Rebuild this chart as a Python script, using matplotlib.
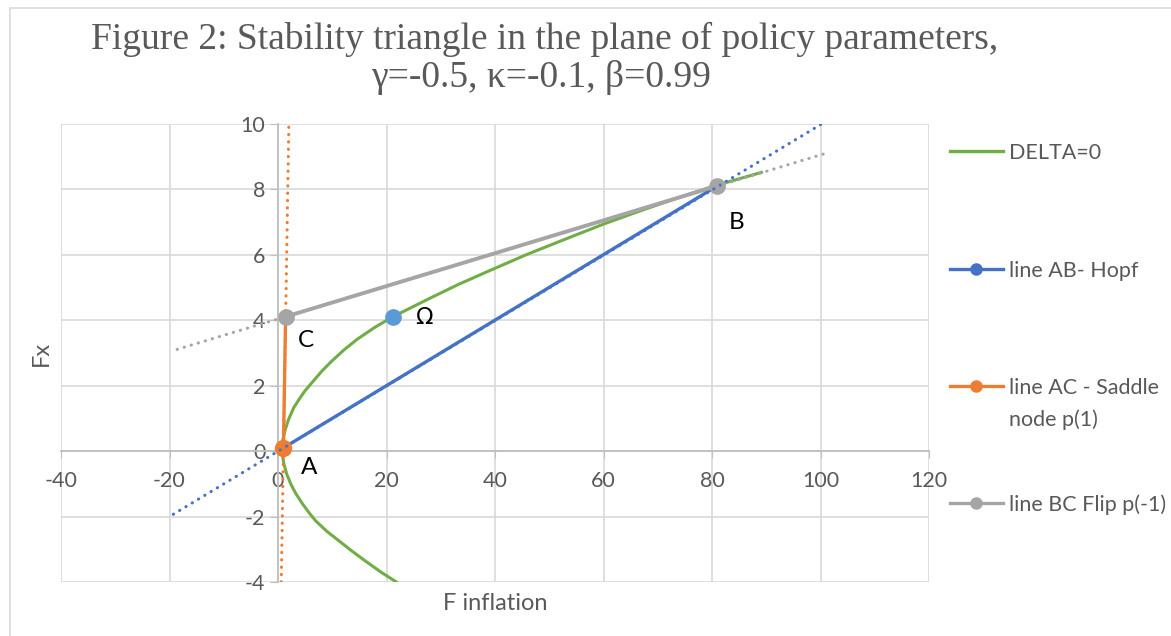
import matplotlib
matplotlib.use('Agg')
import matplotlib.pyplot as plt
from matplotlib.lines import Line2D
from matplotlib.patches import Rectangle

plt.rcParams['font.family'] = ['Lato', 'DejaVu Sans']
plt.rcParams['axes.unicode_minus'] = False

# DELTA=0 curve, points (F inflation, Fx)
delta_x = [22.1, 19.0, 16.2, 13.6, 11.3, 9.0, 7.0, 5.8, 4.6, 3.3, 2.4, 1.6,
           1.1, 0.85, 0.78, 0.9, 1.25, 1.9, 2.9, 3.95, 4.95, 6.5, 8.1, 9.9,
           12.2, 14.6, 17.8, 21.2, 24.7, 28.2, 33.3, 38.9, 45.7, 52.5, 60.0,
           66.0, 73.3, 80.5, 89.1]
delta_y = [-4.03, -3.7, -3.37, -3.05, -2.75, -2.45, -2.14, -1.9, -1.63, -1.3,
           -1.02, -0.7, -0.4, -0.15, 0.1, 0.35, 0.61, 0.95, 1.33, 1.6, 1.84,
           2.14, 2.45, 2.75, 3.1, 3.42, 3.78, 4.11, 4.4, 4.69, 5.1, 5.51, 6.0,
           6.45, 6.94, 7.3, 7.72, 8.11, 8.52]

# corner points of the triangle and the point omega
pt_names = ['A', 'B', 'C']
pt_x = [1.0, 81.0, 1.4]
pt_y = [0.1, 8.11, 4.11]
omega_x = [21.2]
omega_y = [4.11]

# sides of the triangle
ab_x, ab_y = [pt_x[0], pt_x[1]], [pt_y[0], pt_y[1]]
ac_x, ac_y = [pt_x[0], pt_x[2]], [pt_y[0], pt_y[2]]
bc_x, bc_y = [pt_x[1], pt_x[2]], [pt_y[1], pt_y[2]]

# dotted extensions of the sides (end points)
ab_ext_x, ab_ext_y = [-19.3, 100.0], [-1.93, 9.98]
ac_ext_x, ac_ext_y = [0.6, 2.0], [-4.0, 10.0]
bc_ext_x, bc_ext_y = [-18.6, 100.5], [3.11, 9.08]

# where the point names sit
lab_x = [5.7, 84.5, 5.2]
lab_y = [-0.49, 6.98, 3.37]

xticks = [-40, -20, 0, 20, 40, 60, 80, 100, 120]
yticks = [-4, -2, 0, 2, 4, 6, 8, 10]

green = '#70ad47'
blue = '#4472c4'
orange = '#ed7d31'
grey = '#a5a5a5'
light_blue = '#5b9bd5'
txt = '#595959'

W, H = 1171, 636
fig = plt.figure(figsize=(W / 100, H / 100), dpi=100)
ax = fig.add_axes([61 / W, 1 - 582 / H, 868 / W, 458 / H])

# outer chart border
fig.add_artist(Rectangle((10 / W, -0.1), 1.2, 1.1 - 8 / H, transform=fig.transFigure,
                         fill=False, edgecolor='#d9d9d9', lw=1.2))

dot = (0, (0.1, 2.3))
ax.plot(delta_x, delta_y, color=green, lw=2.2, zorder=3)
ax.plot(ab_x, ab_y, color=blue, lw=2.4, marker='o', ms=9, zorder=4)
ax.plot(ac_x, ac_y, color=orange, lw=2.4, zorder=5)
ax.plot(ac_x[:1], ac_y[:1], color=orange, marker='o', ms=11.5, ls='none', zorder=5)
ax.plot(bc_x, bc_y, color=grey, lw=2.8, zorder=6)
ax.plot(bc_x, bc_y, color=grey, marker='o', ms=11, ls='none', zorder=6)
ax.plot(omega_x, omega_y, color=light_blue, marker='o', ms=11, ls='none', zorder=6)

ax.plot(ab_ext_x, ab_ext_y, color=blue, lw=2.2, ls=dot, dash_capstyle='round', zorder=7)
ax.plot(ac_ext_x, ac_ext_y, color=orange, lw=2.2, ls=dot, dash_capstyle='round', zorder=4.5)
ax.plot(bc_ext_x, bc_ext_y, color=grey, lw=2.2, ls=dot, dash_capstyle='round', zorder=7)

for name, x, y in zip(pt_names, lab_x, lab_y):
    ax.text(x, y, name, fontsize=17.5, color='black', ha='center', va='center')
ax.text(26.9, 4.1, 'Ω', fontsize=16.5, color='black', ha='center', va='center',
        family=['DejaVu Sans'])

ax.set_xlim(-40, 120)
ax.set_ylim(-4, 10)
ax.set_xticks(xticks)
ax.set_yticks(yticks)
ax.grid(True, color='#d9d9d9', lw=1.2)
ax.set_axisbelow(True)
for s in ['top', 'right']:
    ax.spines[s].set_visible(False)
ax.spines['left'].set_position(('data', 0))
ax.spines['bottom'].set_position(('data', 0))
for s in ['left', 'bottom']:
    ax.spines[s].set_color('#bfbfbf')
    ax.spines[s].set_linewidth(1.3)
ax.tick_params(axis='y', colors='#bfbfbf', labelcolor=txt, labelsize=15.5, length=6, pad=3)
ax.tick_params(axis='x', colors='#bfbfbf', labelcolor=txt, labelsize=15.5, length=5, pad=9)

ax.set_xlabel('F inflation', fontsize=17, color=txt, va='center')
ax.xaxis.set_label_coords(0.5, (582 - 604) / 458)
ax.set_ylabel('Fx', fontsize=17, color=txt, va='center')
ax.yaxis.set_label_coords((41 - 61) / 868, 0.5)

# title
fig.text(545 / W, 1 - 49 / H, 'Figure 2: Stability triangle in the plane of policy parameters,',
         family='Liberation Serif', fontsize=27, color=txt, ha='center', va='baseline')
fig.text(541 / W, 1 - 87 / H, 'γ=-0.5, κ=-0.1, β=0.99',
         family='Liberation Serif', fontsize=27, color=txt, ha='center', va='baseline')

# legend drawn by hand so the entries sit where they do in the picture
leg_names = ['DELTA=0', 'line AB- Hopf', 'line AC - Saddle', 'line BC Flip p(-1)']
leg_colors = [green, blue, orange, grey]
leg_marks = [None, 'o', 'o', 'o']
leg_ypix = [151, 269, 386, 503]
for name, c, m, yp in zip(leg_names, leg_colors, leg_marks, leg_ypix):
    fy = 1 - yp / H
    fig.add_artist(Line2D([950 / W, 1003 / W], [fy, fy], transform=fig.transFigure,
                          color=c, lw=2.4))
    if m:
        fig.add_artist(Line2D([976 / W], [fy], transform=fig.transFigure,
                              color=c, marker=m, ms=8))
    fig.text(1009 / W, fy, name, fontsize=15.5, color=txt, ha='left', va='center_baseline')
fig.text(1009 / W, 1 - 418 / H, 'node p(1)', fontsize=15.5, color=txt,
         ha='left', va='center_baseline')

fig.savefig('out.png', dpi=100)
